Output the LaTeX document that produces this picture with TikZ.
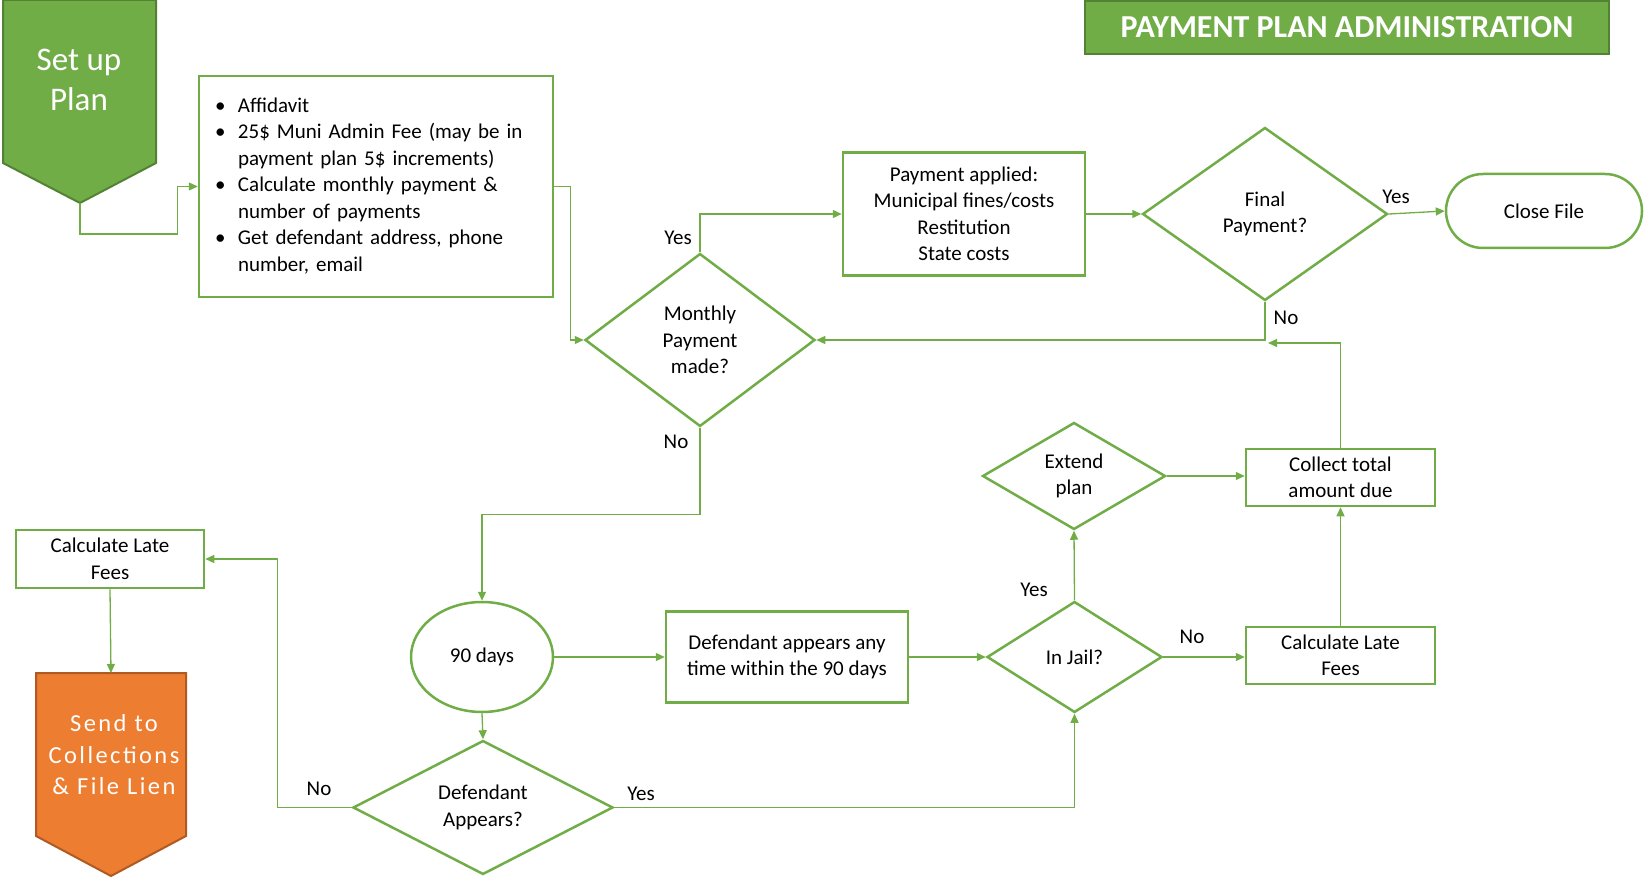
\documentclass[tikz,border=0pt]{standalone}
\usepackage{fontspec}
\setmainfont{Carlito}
\usetikzlibrary{shapes.geometric,arrows.meta}
\definecolor{gr}{HTML}{70AD47}
\definecolor{dgr}{HTML}{548235}
\definecolor{org}{HTML}{ED7D31}
\definecolor{dorg}{HTML}{AE5A21}
\begin{document}
\begin{tikzpicture}[x=1pt,y=-1pt,
  box/.style={draw=gr, line width=2.5pt, fill=white, inner sep=0pt, align=center, font=\fontsize{21}{26.5}\selectfont},
  dia/.style={diamond, draw=gr, line width=2.5pt, fill=white, inner sep=0pt, align=center, font=\fontsize{21}{26.5}\selectfont},
  conn/.style={draw=gr, line width=1.3pt, -{Triangle[length=9pt,width=8pt]}},
  lbl/.style={font=\fontsize{21}{24}\selectfont, inner sep=0pt}]
\useasboundingbox (0,0) rectangle (1648,882);

% title
\node[draw=dgr, fill=gr, line width=2.5pt, minimum width=524, minimum height=53, inner sep=0pt,
  text=white, font=\fontsize{32}{36}\selectfont\bfseries] (title) at (1347,27.5) {PAYMENT PLAN ADMINISTRATION};

% Set up plan pentagon
\draw[draw=dgr, fill=gr, line width=2pt] (3,0) -- (156,0) -- (156,163) -- (80,203) -- (3,163) -- cycle;
\coordinate (setuptip) at (80,203);
\node[text=white, align=center, font=\fontsize{33}{40}\selectfont, inner sep=0pt] (setup) at (79,80) {Set up\\Plan};

% Affidavit box
\node[box, minimum width=354, minimum height=221, text width=322, inner xsep=16pt, align=left] (aff) at (376,186.5)
 {\begin{tabular}{@{}p{23pt}@{}l@{}}
 \textbullet & Affidavit\\
 \textbullet & 25\$ Muni Admin Fee (may be in\\
  & payment plan 5\$ increments)\\
 \textbullet & Calculate monthly payment \&\\
  & number of payments\\
 \textbullet & Get defendant address, phone\\
  & number, email
 \end{tabular}};

% decision nodes
\node[dia, minimum width=230, minimum height=173] (mp) at (700,340) {Monthly\\Payment\\made?};
\node[box, minimum width=242, minimum height=123] (pay) at (964,214) {Payment applied:\\Municipal fines/costs\\Restitution\\State costs};
\node[dia, minimum width=245, minimum height=173] (fp) at (1265,214) {Final\\Payment?};
\node[box, rounded corners=37pt, minimum width=196, minimum height=74] (close) at (1544,211) {Close File};

\node[box, minimum width=189, minimum height=57] (coll) at (1340.5,477.5) {Collect total\\amount due};
\node[dia, minimum width=183, minimum height=107] (ext) at (1074,476) {Extend\\plan};
\node[dia, minimum width=175, minimum height=111] (jail) at (1074.5,657) {In Jail?};
\node[box, minimum width=189, minimum height=57] (calcR) at (1340.5,655.5) {Calculate Late\\Fees};
\node[box, minimum width=242, minimum height=91] (defapp) at (787,657) {Defendant appears any\\time within the 90 days};
\node[ellipse, draw=gr, line width=2.5pt, fill=white, minimum width=142, minimum height=110, inner sep=0pt,
  font=\fontsize{21}{26.5}\selectfont] (days) at (482,657) {90 days};
\node[dia, minimum width=260, minimum height=127] (da) at (483,807.5) {Defendant\\Appears?};
\node[box, minimum width=188, minimum height=58] (calcL) at (110,559) {Calculate Late\\Fees};

% Send to collections pentagon
\draw[draw=dorg, fill=org, line width=2pt] (36,673) -- (186,673) -- (186,836) -- (111,876) -- (36,836) -- cycle;
\coordinate (colltop) at (111,673);
\node[text=white, align=center, font=\fontsize{24.5}{31.5}\selectfont\addfontfeatures{LetterSpace=10}, inner sep=0pt] (send) at (114,755) {Send to\\Collections\\\& File Lien};

% connectors
\draw[conn] (setuptip) -- ++(0,31) -| ([xshift=-20pt]aff.west) -- (aff.west);
\draw[conn] (aff.east) -- ++(16,0) |- (mp.west);
\draw[conn] (mp.north) |- (pay.west);
\draw[conn] (pay.east) -- (fp.west);
\draw[conn] (fp.east) -- (close.west);
\draw[conn] (fp.south) |- (mp.east);
\coordinate (join) at (1268,343);
\draw[conn] (coll.north) |- (join);
\draw[conn] (ext.east) -- (coll.west |- ext.east);
\draw[conn] (jail.north) -- (ext.south);
\draw[conn] (jail.east) -- (calcR.west |- jail.east);
\draw[conn] (calcR.north) -- (coll.south);
\draw[conn] (defapp.east) -- (jail.west);
\draw[conn] (days.east) -- (defapp.west);
\draw[conn] (mp.south) -- ++(0,87) -| (days.north);
\draw[conn] (days.south) -- (da.north);
\draw[conn] (da.east) -| (jail.south);
\draw[conn] (da.west) -- ++(-74,0) |- (calcL.east);
\draw[conn] (calcL.south) -- (colltop);

% labels
\node[lbl] (l1) at (678,238) {Yes};
\node[lbl] (l2) at (1396,197) {Yes};
\node[lbl] (l3) at (1286,318) {No};
\node[lbl] (l4) at (676,442) {No};
\node[lbl] (l5) at (1034,590) {Yes};
\node[lbl] (l6) at (1192,637) {No};
\node[lbl] (l7) at (641,794) {Yes};
\node[lbl] (l8) at (319,789) {No};
\end{tikzpicture}
\end{document}
